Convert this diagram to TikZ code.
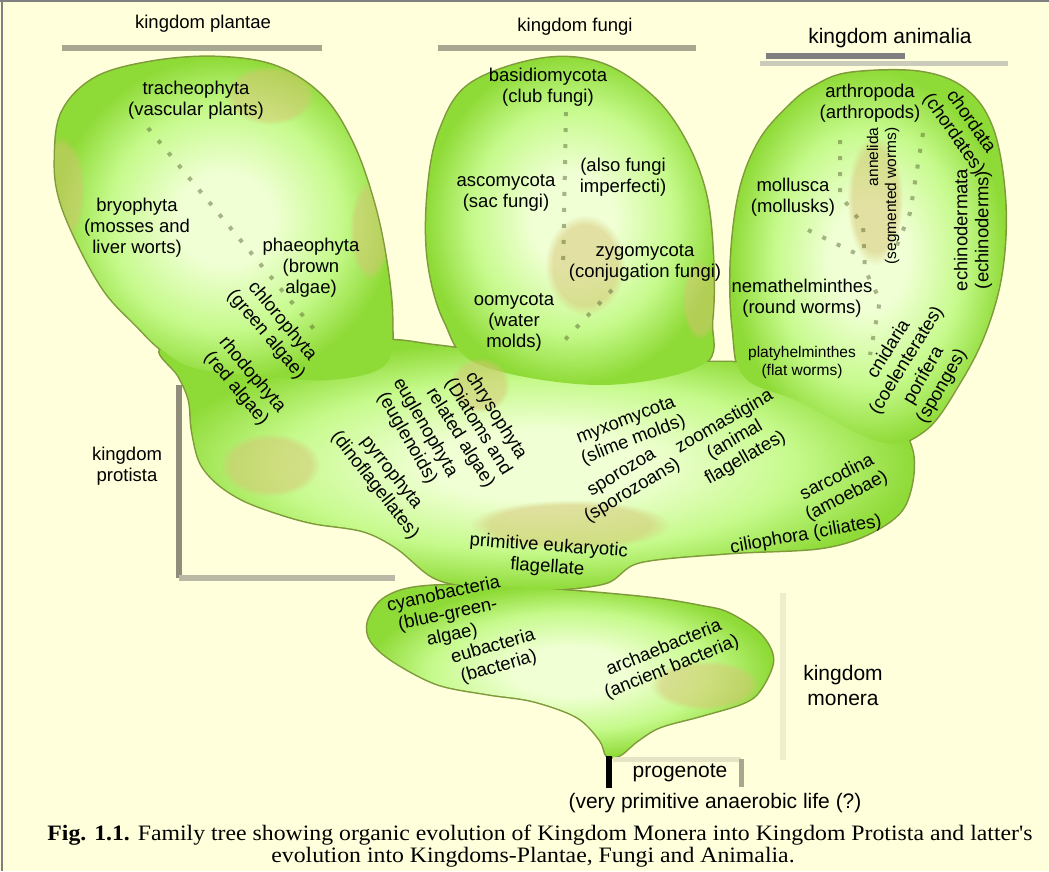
\documentclass[tikz,border=0pt]{standalone}
\usepackage{fontspec}
\setmainfont{Liberation Sans}
\newfontfamily\capfont{Liberation Serif}
\usetikzlibrary{fadings}
\definecolor{bg}{HTML}{FFFFDC}
\definecolor{bcen}{HTML}{F0FFD4}
\definecolor{bmid}{HTML}{C6FA8C}
\definecolor{bout}{HTML}{8EDA36}
\definecolor{bedge}{HTML}{7E9A3A}
\definecolor{tanc}{HTML}{D6C474}
\definecolor{brk}{HTML}{A8A890}
\definecolor{dotc}{HTML}{4E5A28}
\pgfdeclareradialshading{blobshade}{\pgfpoint{0bp}{0bp}}{color(0bp)=(bcen); color(7bp)=(bcen); color(17bp)=(bmid); color(25bp)=(bout); color(50bp)=(bout)}
\tikzset{
  lab/.style={align=center, font=\fontsize{18.5}{21}\selectfont, inner sep=0pt},
  slab/.style={align=center, font=\fontsize{15.5}{18}\selectfont, inner sep=0pt},
  blab/.style={align=center, font=\fontsize{21}{25}\selectfont, inner sep=0pt},
  blob/.style={shading=blobshade},
  blobedge/.style={draw=bedge, line width=3pt},
  brline/.style={draw=brk, line width=6pt},
  branch/.style={draw=dotc, line width=4pt, dash pattern=on 4pt off 12pt, opacity=0.45},
  blotch/.style={fill=tanc, opacity=0.5, path fading=circle with fuzzy edge 20 percent},
  captext/.style={font=\capfont\fontsize{22}{24}\selectfont, inner sep=0pt, xscale=1.08}
}
\def\plantp{plot[smooth cycle, tension=0.6] coordinates {(150,62) (215,57) (275,66) (322,96) (352,142) (373,200) (386,260) (392,320) (385,365) (330,380) (260,376) (195,368) (162,350) (136,325) (106,293) (80,248) (60,200) (55,160) (62,112) (95,78)}}
\def\protp{plot[smooth cycle, tension=0.55] coordinates {(380,340) (440,346) (560,360) (700,362) (760,366) (875,400) (912,450) (905,505) (870,533) (820,548) (730,553) (640,562) (605,583) (540,590) (470,586) (433,577) (397,548) (363,531) (313,523) (277,513) (243,500) (217,483) (200,462) (192,430) (189,400) (178,375) (160,350) (200,340) (270,348)}}
\def\fungp{plot[smooth cycle, tension=0.6] coordinates {(540,59) (600,63) (652,96) (685,140) (706,195) (713,260) (712,320) (702,365) (600,385) (480,365) (445,322) (428,260) (428,190) (440,130) (470,84)}}
\def\animp{plot[smooth cycle, tension=0.6] coordinates {(850,73) (920,72) (966,90) (993,130) (1005,200) (1002,270) (986,330) (960,382) (925,430) (880,442) (800,402) (745,378) (733,330) (731,260) (740,190) (760,140) (790,105) (815,86)}}
\def\monp{plot[smooth cycle, tension=0.55] coordinates {(368,622) (382,600) (412,588) (470,585) (560,590) (650,598) (700,606) (728,613) (760,634) (773,660) (760,690) (743,703) (700,716) (660,727) (637,741) (620,755) (607,756) (600,740) (577,717) (533,701) (487,694) (437,684) (393,661) (371,641)}}
\begin{document}
\begin{tikzpicture}[x=1pt,y=-1pt]
\fill[bg] (0,0) rectangle (1049,871);
\useasboundingbox (0,0) rectangle (1049,871);
\draw[gray, line width=2pt] (0,1) -- (1049,1);
\draw[gray, line width=2pt] (2,0) -- (2,871);
% kingdom brackets
\coordinate (pl1) at (62,48); \coordinate (pl2) at (322,48);
\draw[brline] (pl1) -- (pl2);
\coordinate (fu1) at (438,48); \coordinate (fu2) at (696,48);
\draw[brline] (fu1) -- (fu2);
\coordinate (an1) at (766,56); \coordinate (an2) at (905,56);
\draw[brline, draw=gray] (an1) -- (an2);
\coordinate (an3) at (760,63); \coordinate (an4) at (1008,63);
\draw[brline, draw=brk!60, line width=5pt] (an3) -- (an4);
\coordinate (pr1) at (179,385); \coordinate (pr2) at (179,578); \coordinate (pr3) at (395,578);
\draw[brline, draw=gray!85!olive] (pr1) -- (pr2);
\draw[brline, draw=brk!80] (pr2) -- (pr3);
\coordinate (mo1) at (783,593); \coordinate (mo2) at (783,760);
\draw[brline, draw=bg!80!brk] (mo1) -- (mo2);
% blob borders
\path[blobedge] \protp;
\path[blobedge] \plantp;
\path[blobedge] \fungp;
\path[blobedge] \animp;
\path[blobedge] \monp;
% blob fills
\path[blob] \protp;
\path[blob] \plantp;
\path[blob] \fungp;
\path[blob] \animp;
\path[blob] \monp;
% tan blotches
\begin{scope}\clip \plantp;
  \path[blotch] (270,95) ellipse (45 and 30);
  \path[blotch] (60,190) ellipse (25 and 55);
  \path[blotch] (370,230) ellipse (20 and 50);
\end{scope}
\begin{scope}\clip \protp;
  \path[blotch] (270,465) ellipse (50 and 32);
  \path[blotch] (570,525) ellipse (100 and 25);
  \path[blotch] (480,385) ellipse (30 and 28);
\end{scope}
\begin{scope}\clip \fungp;
  \path[blotch] (585,265) ellipse (40 and 50);
  \path[blotch] (700,300) ellipse (18 and 40);
\end{scope}
\begin{scope}\clip \animp;
  \path[blotch] (875,200) ellipse (28 and 65);
  \path[blotch] (975,410) ellipse (30 and 35);
\end{scope}
\begin{scope}\clip \monp;
  \path[blotch] (705,685) ellipse (55 and 25);
\end{scope}
% branch dots
\coordinate (b1) at (148,128); \coordinate (b2) at (318,334);
\draw[branch] (b1) -- (b2);
\coordinate (b3) at (566,112); \coordinate (b4) at (563,270);
\draw[branch] (b3) -- (b4);
\coordinate (b5) at (612,290); \coordinate (b6) at (560,345);
\draw[branch] (b5) -- (b6);
\coordinate (b7) at (840,140); \coordinate (b8) at (840,195); \coordinate (b9) at (863,225); \coordinate (b10) at (865,270); \coordinate (b11) at (880,300); \coordinate (b12) at (870,355);
\draw[branch] (b7) -- (b8) -- (b9) -- (b10) -- (b11) -- (b12);
\coordinate (b13) at (808,230); \coordinate (b14) at (855,253);
\draw[branch] (b13) -- (b14);
\coordinate (b15) at (923,133); \coordinate (b16) at (910,213); \coordinate (b17) at (893,255);
\draw[branch] (b15) -- (b16) -- (b17);
% progenote
\coordinate (pg1) at (609,756); \coordinate (pg2) at (609,788);
\draw[black, line width=6pt] (pg1) -- (pg2);
\coordinate (pg3) at (613,759); \coordinate (pg4) at (741,759); \coordinate (pg5) at (741,787);
\draw[draw=bg!70!brk, line width=5pt] (pg3) -- (pg4);
\draw[draw=brk, line width=5pt] (pg4) -- (pg5);
% labels
\node[lab] (kpl) at (203,24) {kingdom plantae};
\node[lab] (kfu) at (575,27) {kingdom fungi};
\node[blab] (kan) at (890,38) {kingdom animalia};
\node[lab] (tra) at (196,100) {tracheophyta\\(vascular plants)};
\node[lab] (bry) at (137,228) {bryophyta\\(mosses and\\liver worts)};
\node[lab] (pha) at (311,268) {phaeophyta\\(brown\\algae)};
\node[lab, rotate=-50] (chl) at (274,328) {chlorophyta\\(green algae)};
\node[lab, rotate=-50] (rho) at (244,382) {rhodophyta\\(red algae)};
\node[lab, rotate=-60] (eug) at (416,433) {euglenophyta\\(euglenoids)};
\node[lab, rotate=-58] (chr) at (478,427) {chrysophyta\\(Diatoms and\\related algae)};
\node[lab, rotate=-52] (pyr) at (383,479) {pyrrophyta\\(dinoflagellates)};
\node[lab] (kpr) at (127,466) {kingdom\\protista};
\node[lab] (bas) at (548,87) {basidiomycota\\(club fungi)};
\node[lab] (asc) at (506,193) {ascomycota\\(sac fungi)};
\node[lab] (imp) at (623,177) {(also fungi\\imperfecti)};
\node[lab] (zyg) at (645,263) {zygomycota\\(conjugation fungi)};
\node[lab] (oom) at (514,322) {oomycota\\(water\\molds)};
\node[lab] (art) at (870,103) {arthropoda\\(arthropods)};
\node[lab, rotate=-55] (cho) at (962,128) {chordata\\(chordates)};
\node[slab, rotate=90, align=right] (ann) at (883,196) {annelida\\(segmented worms)};
\node[lab] (mol) at (793,197) {mollusca\\(mollusks)};
\node[lab] (nem) at (802,298) {nemathelminthes\\(round worms)};
\node[slab] (pla) at (802,362) {platyhelminthes\\(flat worms)};
\node[lab, rotate=58] (cni) at (898,355) {cnidaria\\(coelenterates)};
\node[lab, rotate=60] (por) at (933,381) {porifera\\(sponges)};
\node[lab, rotate=90] (ech) at (973,230) {echinodermata\\(echinoderms)};
\node[lab, rotate=21] (myx) at (630,431) {myxomycota\\(slime molds)};
\node[lab, rotate=31] (spo) at (628,483) {sporozoa\\(sporozoans)};
\node[lab, rotate=30] (zoo) at (735,440) {zoomastigina\\(animal\\flagellates)};
\node[lab, rotate=27] (sar) at (842,487) {sarcodina\\(amoebae)};
\node[lab, rotate=10] (cil) at (806,535) {ciliophora (ciliates)};
\node[lab, rotate=-4] (pef) at (548,557) {primitive eukaryotic\\flagellate};
\node[lab, rotate=12] (cya) at (448,615) {cyanobacteria\\(blue-green-\\algae)};
\node[lab, rotate=16] (eub) at (496,657) {eubacteria\\(bacteria)};
\node[lab, rotate=22] (arc) at (668,658) {archaebacteria\\(ancient bacteria)};
\node[blab] (kmo) at (843,685) {kingdom\\monera};
\node[blab] (pro) at (680,773) {progenote};
\node[blab] (vpa) at (715,803) {(very primitive anaerobic life (?)};
\node[captext] (cap1) at (540,835) {\textbf{Fig. 1.1.} Family tree showing organic evolution of Kingdom Monera into Kingdom Protista and latter's};
\node[captext] (cap2) at (533,857) {evolution into Kingdoms-Plantae, Fungi and Animalia.};
\end{tikzpicture}
\end{document}
